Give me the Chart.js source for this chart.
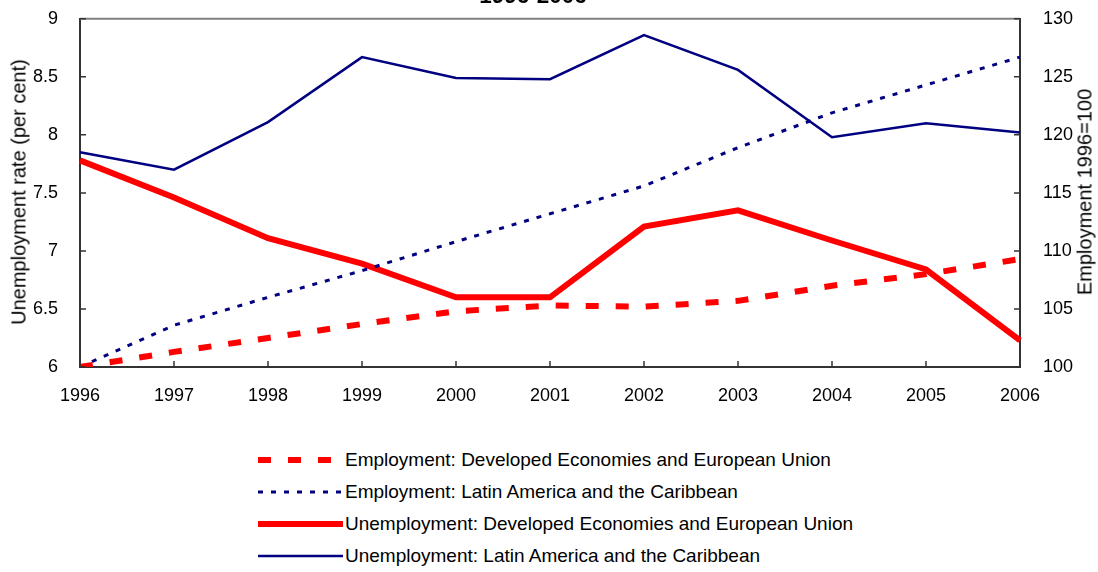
<!DOCTYPE html>
<html lang="en">
<head>
    <meta charset="UTF-8">
    <title>Employment and unemployment 1996-2006</title>
    <script src="https://cdn.jsdelivr.net/npm/chart.js"></script>
    <style>
        body {
            margin: 0;
            padding: 0;
            background: #fff;
            font-family: "Liberation Sans", Arial, sans-serif;
            width: 1098px;
            height: 572px;
            overflow: hidden;
            position: relative;
        }
        .title {
            position: absolute;
            left: 0;
            width: 1066px;
            top: -17px;
            text-align: center;
            font-weight: bold;
            font-size: 22.5px;
            color: #000;
        }
        .chart-box {
            position: absolute;
            left: 0;
            top: -7px;
            width: 1098px;
            height: 427px;
        }
        .axis-title {
            position: absolute;
            top: 192px;
            font-size: 20px;
            white-space: nowrap;
            color: #000;
            transform: translate(-50%, -50%) rotate(-90deg);
        }
        .legend {
            position: absolute;
            left: 258px;
            top: 444px;
            font-size: 19px;
            color: #000;
        }
        .legend div {
            height: 32px;
            display: flex;
            align-items: center;
        }
        .legend svg {
            margin-right: 2px;
        }
    </style>
</head>
<body>
    <div class="chart-box"><canvas id="mainChart"></canvas></div>
    <div class="title">1996-2006</div>
    <div class="axis-title" style="left: 19px;">Unemployment rate (per cent)</div>
    <div class="axis-title" style="left: 1085px;">Employment 1996=100</div>
    <div class="legend" id="legend"></div>

    <script>
        const years = ['1996', '1997', '1998', '1999', '2000', '2001', '2002', '2003', '2004', '2005', '2006'];

        // employment index, 1996 = 100 (right axis)
        const empDeveloped = [100, 101.3, 102.5, 103.7, 104.8, 105.3, 105.2, 105.7, 107.0, 108.0, 109.3];
        const empLatin = [100, 103.6, 106.0, 108.3, 110.8, 113.2, 115.6, 118.9, 121.9, 124.3, 126.7];

        // unemployment rate, per cent (left axis)
        const unempDeveloped = [7.78, 7.46, 7.11, 6.89, 6.60, 6.60, 7.21, 7.35, 7.09, 6.84, 6.23];
        const unempLatin = [7.85, 7.70, 8.11, 8.67, 8.49, 8.48, 8.86, 8.56, 7.98, 8.10, 8.02];

        const seriesNames = [
            'Employment: Developed Economies and European Union',
            'Employment: Latin America and the Caribbean',
            'Unemployment: Developed Economies and European Union',
            'Unemployment: Latin America and the Caribbean'
        ];

        const axisColor = '#333';
        const font = { family: '"Liberation Sans", Arial, sans-serif', size: 18 };

        // gray top edge of the plot and tick marks pointing into the plot
        const frame = {
            id: 'frame',
            afterDraw(chart) {
                const { ctx, chartArea, scales } = chart;
                ctx.save();
                ctx.strokeStyle = '#808080';
                ctx.lineWidth = 2;
                ctx.beginPath();
                ctx.moveTo(chartArea.left, chartArea.top);
                ctx.lineTo(chartArea.right, chartArea.top);
                ctx.stroke();

                ctx.strokeStyle = axisColor;
                ctx.lineWidth = 1.5;
                ctx.beginPath();
                scales.yLeft.ticks.forEach((t, i) => {
                    const y = scales.yLeft.getPixelForTick(i);
                    ctx.moveTo(chartArea.left, y);
                    ctx.lineTo(chartArea.left + 6, y);
                });
                scales.yRight.ticks.forEach((t, i) => {
                    const y = scales.yRight.getPixelForTick(i);
                    ctx.moveTo(chartArea.right, y);
                    ctx.lineTo(chartArea.right - 6, y);
                });
                scales.x.ticks.forEach((t, i) => {
                    const x = scales.x.getPixelForTick(i);
                    ctx.moveTo(x, chartArea.bottom);
                    ctx.lineTo(x, chartArea.bottom - 6);
                });
                ctx.stroke();
                ctx.restore();
            }
        };

        const chart = new Chart(document.getElementById('mainChart'), {
            type: 'line',
            data: {
                labels: years,
                datasets: [
                    {
                        label: seriesNames[0],
                        data: empDeveloped,
                        yAxisID: 'yRight',
                        borderColor: '#ff0000',
                        borderWidth: 6,
                        borderDash: [13, 17],
                        borderCapStyle: 'butt'
                    },
                    {
                        label: seriesNames[1],
                        data: empLatin,
                        yAxisID: 'yRight',
                        borderColor: '#000080',
                        borderWidth: 3,
                        borderDash: [5, 8],
                        borderCapStyle: 'butt'
                    },
                    {
                        label: seriesNames[2],
                        data: unempDeveloped,
                        yAxisID: 'yLeft',
                        borderColor: '#ff0000',
                        borderWidth: 6
                    },
                    {
                        label: seriesNames[3],
                        data: unempLatin,
                        yAxisID: 'yLeft',
                        borderColor: '#000080',
                        borderWidth: 2.5
                    }
                ]
            },
            options: {
                responsive: true,
                maintainAspectRatio: false,
                animation: false,
                layout: { padding: { top: 10, left: 0, right: 0, bottom: 0 } },
                elements: {
                    point: { radius: 0 },
                    line: { tension: 0, fill: false, borderJoinStyle: 'miter' }
                },
                plugins: {
                    legend: { display: false },
                    tooltip: { enabled: false }
                },
                scales: {
                    x: {
                        offset: false,
                        grid: { display: false },
                        border: { color: axisColor, width: 2 },
                        ticks: { color: '#000', font: font, maxRotation: 0, padding: 10 },
                        afterFit(axis) { axis.height = 53; }
                    },
                    yLeft: {
                        position: 'left',
                        min: 6,
                        max: 9,
                        ticks: { stepSize: 0.5, color: '#000', font: font, padding: 14, callback: v => String(v) },
                        grid: { display: false },
                        border: { color: axisColor, width: 2 },
                        afterFit(axis) { axis.width = 80; }
                    },
                    yRight: {
                        position: 'right',
                        min: 100,
                        max: 130,
                        ticks: { stepSize: 5, color: '#000', font: font, padding: 15 },
                        grid: { display: false },
                        border: { color: axisColor, width: 2 },
                        afterFit(axis) { axis.width = 78; }
                    }
                }
            },
            plugins: [frame]
        });

        // legend in one left-aligned column, samples taken from the datasets
        const legendEl = document.getElementById('legend');
        chart.data.datasets.forEach(ds => {
            const row = document.createElement('div');
            const dash = ds.borderDash ? ds.borderDash.join(' ') : 'none';
            row.innerHTML =
                '<svg width="85" height="12"><line x1="0" y1="6" x2="85" y2="6" stroke="' + ds.borderColor +
                '" stroke-width="' + ds.borderWidth + '" stroke-dasharray="' + dash + '"/></svg>' +
                '<span>' + ds.label + '</span>';
            legendEl.appendChild(row);
        });
    </script>
</body>
</html>
